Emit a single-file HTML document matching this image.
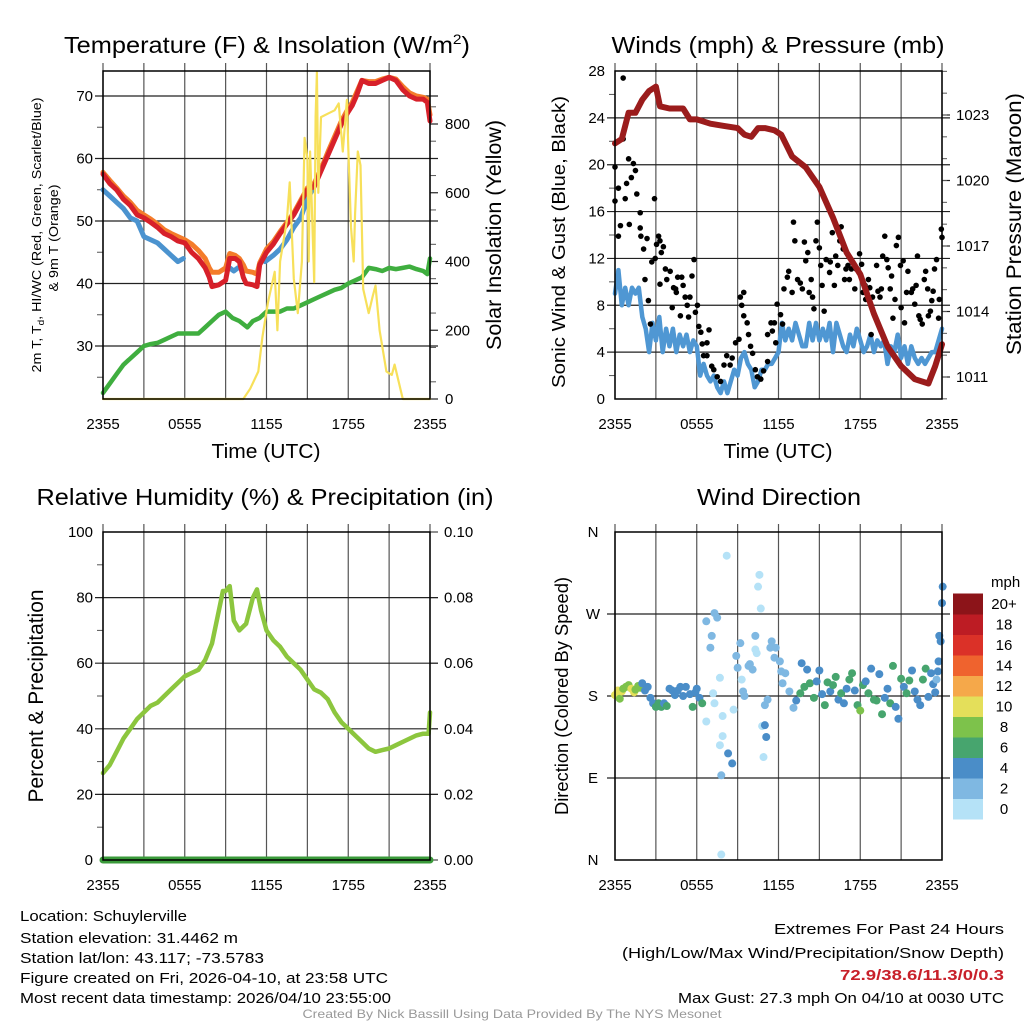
<!DOCTYPE html>
<html><head><meta charset="utf-8"><style>
html,body{margin:0;padding:0;background:#fff}
svg{display:block;font-family:"Liberation Sans",sans-serif}
</style></head><body>
<svg id="svg" width="1024" height="1024" viewBox="0 0 1024 1024" xmlns="http://www.w3.org/2000/svg">
<rect width="1024" height="1024" fill="#fff"/>
<g id="layer"></g>
<text x="267" y="53" font-size="23" text-anchor="middle" textLength="406" lengthAdjust="spacingAndGlyphs">Temperature (F) &amp; Insolation (W/m<tspan font-size="14" dy="-9">2</tspan><tspan dy="9">)</tspan></text>
<text x="778" y="53" font-size="23" text-anchor="middle" textLength="333" lengthAdjust="spacingAndGlyphs">Winds (mph) &amp; Pressure (mb)</text>
<text x="265" y="505" font-size="23" text-anchor="middle" textLength="457" lengthAdjust="spacingAndGlyphs">Relative Humidity (%) &amp; Precipitation (in)</text>
<text x="779" y="505" font-size="23" text-anchor="middle" textLength="164" lengthAdjust="spacingAndGlyphs">Wind Direction</text>
<text x="266" y="458" font-size="20" text-anchor="middle" textLength="109" lengthAdjust="spacingAndGlyphs">Time (UTC)</text>
<text x="778" y="458" font-size="20" text-anchor="middle" textLength="109" lengthAdjust="spacingAndGlyphs">Time (UTC)</text>
<text transform="translate(41,235) rotate(-90)" font-size="13" text-anchor="middle" textLength="275" lengthAdjust="spacingAndGlyphs">2m T, T<tspan font-size="9" dy="3">d</tspan><tspan dy="-3">, HI/WC (Red, Green, Scarlet/Blue)</tspan></text>
<text transform="translate(58,238) rotate(-90)" font-size="13" text-anchor="middle" textLength="107" lengthAdjust="spacingAndGlyphs">&amp; 9m T (Orange)</text>
<text transform="translate(501,235) rotate(-90)" font-size="21" text-anchor="middle" textLength="230" lengthAdjust="spacingAndGlyphs">Solar Insolation (Yellow)</text>
<text transform="translate(565,242) rotate(-90)" font-size="18" text-anchor="middle" textLength="292" lengthAdjust="spacingAndGlyphs">Sonic Wind &amp; Gust (Blue, Black)</text>
<text transform="translate(1021,224) rotate(-90)" font-size="21" text-anchor="middle" textLength="262" lengthAdjust="spacingAndGlyphs">Station Pressure (Maroon)</text>
<text transform="translate(43,696) rotate(-90)" font-size="21" text-anchor="middle" textLength="213" lengthAdjust="spacingAndGlyphs">Percent &amp; Precipitation</text>
<text transform="translate(568,696) rotate(-90)" font-size="18" text-anchor="middle" textLength="238" lengthAdjust="spacingAndGlyphs">Direction (Colored By Speed)</text>
<text x="991" y="587" font-size="15">mph</text>
<g font-size="15">
<text x="20" y="921" textLength="167" lengthAdjust="spacingAndGlyphs">Location: Schuylerville</text>
<text x="20" y="943" textLength="218" lengthAdjust="spacingAndGlyphs">Station elevation: 31.4462 m</text>
<text x="20" y="963" textLength="244" lengthAdjust="spacingAndGlyphs">Station lat/lon: 43.117; -73.5783</text>
<text x="20" y="983" textLength="368" lengthAdjust="spacingAndGlyphs">Figure created on Fri, 2026-04-10, at 23:58 UTC</text>
<text x="20" y="1003" textLength="371" lengthAdjust="spacingAndGlyphs">Most recent data timestamp: 2026/04/10 23:55:00</text>
</g>
<g font-size="15" text-anchor="end">
<text x="1004" y="934" textLength="230" lengthAdjust="spacingAndGlyphs">Extremes For Past 24 Hours</text>
<text x="1004" y="958" textLength="382" lengthAdjust="spacingAndGlyphs">(High/Low/Max Wind/Precipitation/Snow Depth)</text>
<text x="1004" y="980" fill="#c8202a" font-weight="bold" textLength="164" lengthAdjust="spacingAndGlyphs">72.9/38.6/11.3/0/0.3</text>
<text x="1004" y="1003" textLength="326" lengthAdjust="spacingAndGlyphs">Max Gust: 27.3 mph On 04/10 at 0030 UTC</text>
</g>
<text x="512" y="1018" font-size="12" fill="#999" text-anchor="middle" textLength="419" lengthAdjust="spacingAndGlyphs">Created By Nick Bassill Using Data Provided By The NYS Mesonet</text>
</svg>
<script>
const xTickLabels=["2355","0555","1155","1755","2355"];
const tempHours=[0,0.5,1,1.5,2,2.5,3,3.5,4,4.5,5,5.5,6,6.5,7,7.5,7.8,8,8.5,9,9.3,9.7,10,10.3,10.5,11,11.3,11.5,12,12.5,13,13.5,14,14.5,15,15.5,16,16.5,17,17.5,18,18.3,18.6,19,19.5,20,20.5,21,21.5,22,22.5,23,23.5,23.8,24];
const tempRed=[57.5,56,55,53.5,52.5,51,50.5,49.8,49,48,47.5,46.8,46.5,45,44,42.5,41,39.5,39.8,40.5,44,44,43.5,41,40,39.8,39.5,43,45,46.3,48,49.5,51,53,55,55.5,58,60.5,63,65.5,67.5,68.5,70,72.5,72,72,72.5,73,72.5,71,70,69.5,69.5,69,66];
const tempOrange=[57.8,56.5,55.3,54,53,51.7,51,50.3,49.5,48.6,48,47.5,47,46.3,45.3,44,42.5,41.8,41.8,42.5,44.8,44.5,44,43,42,41.8,41.5,43.3,45.5,46.7,48.3,49.8,51.3,53.3,55.3,56,58.3,61,63.5,66,68,69,70.5,72.5,72.3,72.3,72.7,73,72.7,71.5,70.5,70,69.8,69.5,67];
const hiHours=[0,0.5,1,1.5,2,2.5,3,3.5,4,4.5,5,5.5,5.9,null,9.3,9.6,9.9,null,11.9,12.5,13,13.5,14,14.5,15,15.5];
const hiVals=[55,54,53,52,50.5,50,47.5,47,46.5,45.5,44.5,43.5,44,null,42.5,42,42.5,null,43.5,44.5,45.5,47,49,50.5,53.5,55.5];
const dewHours=[0,0.5,1,1.5,2,2.5,3,3.5,4,4.5,5,5.5,6,6.5,7,7.5,8,8.5,9,9.5,10,10.3,10.6,11,11.5,12,12.5,13,13.5,14,14.5,15,15.5,16,16.5,17,17.5,18,18.5,19,19.5,20,20.5,21,21.5,22,22.5,23,23.5,23.8,24];
const dewVals=[22.5,24,25.5,27,28,29,30,30.3,30.5,31,31.5,32,32,32,32,33,34,35,35.5,34.5,34,33.5,33,34,34.5,35.5,35.5,35.5,36,36,36.5,37,37.5,38,38.5,39,39.3,40,40.5,41,42.5,42.3,42,42.5,42.3,42.5,42.7,42.3,42,41.5,44];
const solarHours=[0,10.3,10.8,11.4,11.7,12.1,12.6,12.8,13,13.5,13.7,14,14.3,14.6,14.8,15,15.1,15.2,15.5,15.6,15.7,15.8,16,16.5,17,17.3,17.6,17.9,18,18.2,18.4,18.5,18.7,18.9,19.1,19.5,19.8,20,20.3,20.8,21.2,21.4,21.7,22,24];
const solarVals=[0,0,30,80,180,280,370,200,400,520,630,350,250,400,760,700,400,720,340,820,950,600,820,830,840,860,720,870,730,500,400,540,720,680,320,250,300,330,200,80,70,100,50,0,0];
const windHours=[0,0.25,0.5,0.75,1,1.25,1.5,1.75,2,2.25,2.5,2.75,3,3.25,3.5,3.75,4,4.25,4.5,4.75,5,5.25,5.5,5.75,6,6.25,6.5,6.75,7,7.25,7.5,7.75,8,8.25,8.5,8.75,9,9.25,9.5,9.75,10,10.25,10.5,10.75,11,11.25,11.5,11.75,12,12.25,12.5,12.75,13,13.25,13.5,13.75,14,14.25,14.5,14.75,15,15.25,15.5,15.75,16,16.25,16.5,16.75,17,17.25,17.5,17.75,18,18.25,18.5,18.75,19,19.25,19.5,19.75,20,20.25,20.5,20.75,21,21.25,21.5,21.75,22,22.25,22.5,22.75,23,23.25,23.5,23.75,24];
const windVals=[9,11,8,9.5,8,9.5,9,9.5,7,6,4,6.5,5,7,4,6,4.5,6,4,5.5,4.5,5.5,4,5,4.5,2,3,2,1.5,2,1,0.5,1.5,0.5,1.5,2.5,2,3.5,4,3,2.5,1,1.5,2.5,2.5,3,3,3.5,4,6.5,5,6,5,6.5,5.5,4.5,4.5,6.5,5,6.5,5,6,5,6.5,4,6.5,5.5,4.5,4,5.5,4.5,6,5,4,4.5,5.5,4,5,4.5,5,3,4.5,4,5.5,3.5,4.5,3,4.5,3.5,3,3.5,3,3.5,4,4,5,6];
const gustHours=[0,0,0.25,0.6,0.4,0.25,0.6,0.75,1,1.05,0.85,1.2,1.35,1.5,1.6,1.85,1.85,1.9,2.1,2.35,2.2,2.45,2.6,2.7,2.9,2.95,3.05,3.2,3.3,3.4,3.55,3.7,3.3,3.8,4.05,4.2,4.3,4.45,4.5,4.6,4.8,4.9,5,5.15,5.3,5.4,5.5,5.65,5.8,5.9,6.05,6.15,6.3,6.4,6.5,6.75,6.75,6.9,7.1,7.25,7.5,7.75,8,8.2,8.45,8.6,8.85,9.1,9.2,9.45,9.3,9.45,9.7,9.8,9.95,10.1,10.3,10.45,10.7,10.9,11.2,11.2,11.45,11.55,11.7,11.8,11.9,12.15,12.3,12.4,12.65,12.75,13,13.1,13.2,13.4,13.6,13.75,13.9,14,14.15,14.25,14.4,14.5,14.6,14.75,14.85,15,15.1,15.2,15.35,15.5,15.75,15.8,15.95,16.1,16.2,16.35,16.5,16.6,16.75,16.85,16.95,17.1,17.2,17.35,17.6,17.7,17.95,18.1,18.2,18.35,18.4,18.6,18.7,18.8,18.9,19.2,19.3,19.45,19.55,19.65,19.8,19.95,20.05,20.2,20.3,20.4,20.55,20.65,20.8,20.95,21,21.15,21.25,21.4,21.5,21.75,21.85,22,22.1,22.2,22.3,22.4,22.55,22.7,22.8,22.95,23,23.15,23.25,23.35,23.45,23.6,23.75,23.8,23.95,24,24];
const gustVals=[16.9,19.8,18,27.4,14.8,13.9,22.2,17.1,20.5,14.9,18.4,18.9,20.1,19.5,17.5,15.9,14.6,13.9,12.8,13.7,10.2,8.4,6.4,11.7,17.1,12,13.2,13.9,13.5,12.5,13,11.1,9.8,10.2,10.9,7.8,9.5,9.4,9.1,10.4,7.1,10.4,9.7,8.7,8,7,8.7,10.5,11.9,7.4,8,6.2,5.7,4.7,3.7,3.7,4.8,5.9,2.8,2.5,1.9,1.5,2.9,3.7,2.9,3.5,4.8,5.1,8.7,9.1,8,7.1,6.5,5.5,4.5,3.9,2.5,1.9,1.7,2.4,3.2,5.5,6.5,5.8,6.5,4.8,8.1,7.2,6.4,9.4,10.4,10.9,9.1,15.1,13.5,10.2,9.9,9.4,13.4,11.8,12.5,9.1,10.2,8.7,7.7,13.5,15.1,12.9,11.4,9.7,7.5,11.9,10.8,11.7,14.2,9.7,12.2,11.4,13.5,14.7,12.8,10.2,11.1,11.4,10.2,11.1,9.4,11.1,12.4,11.5,9.1,9.7,8.5,10.2,9.5,5.5,8.7,11.4,9.2,8.7,9.4,12.2,13.9,11.9,11.2,9.4,10.5,6.9,8.5,13.1,13.8,11.4,7.8,11.8,6.5,9.1,10.9,9.1,9.4,8.1,9.7,12.2,7.1,6.8,6.4,10.2,10.9,9.4,7.1,7.5,8.4,9.2,11.1,11.9,6.9,8.5,14.5,13.8];
const presHours=[0,0.5,1,1.5,2,2.5,3,3.3,4,5,5.5,6,7,8,9,9.5,10,10.5,11,11.7,12.2,13,14,15,16,17,18,19,20,21,22,23,23.5,24];
const presVals=[1021.7,1021.9,1023.1,1023.1,1023.7,1024.1,1024.3,1023.4,1023.3,1023.3,1022.8,1022.8,1022.6,1022.5,1022.4,1022.1,1022,1022.4,1022.4,1022.3,1022.1,1021.1,1020.6,1019.7,1018.3,1016.7,1015.7,1013.9,1012.4,1011.5,1010.9,1010.7,1011.5,1012.5];
const rhHours=[0,0.5,1,1.5,2,2.5,3,3.5,4,4.5,5,5.5,6,6.5,7,7.5,8,8.3,8.6,8.8,9,9.3,9.6,10,10.5,11,11.3,11.6,12,12.5,13,13.5,14,14.5,15,15.5,16,16.5,17,17.5,18,18.5,19,19.5,20,20.5,21,21.5,22,22.5,23,23.5,23.9,24];
const rhVals=[26.5,29,33,37,40,43,45,47,48,50,52,54,56,57,58,61,66,72,78,82,82,83.5,73,70,72,80,82.5,76,70,67,65,62,60,58,55,52,51,49,45,42,40,38,36,34,33,33.5,34,35,36,37,38,38.5,38.5,45];
const precipHours=[0,24];
const precipVals=[0,0];
const dirHours=[0,0.1,0.2,0.35,0.5,0.6,0.8,1,1.2,1.4,1.5,1.7,1.85,2,2.2,2.4,2.6,2.8,3,3.2,3.4,3.6,3.8,4,4.2,4.4,4.6,4.8,5,5.2,5.5,5.7,5.9,6,6.2,6.4,6.7,6.7,7.0,7.1,7.2,7.3,7.3,7.5,7.7,7.7,7.8,7.8,7.9,7.9,8.2,8.3,8.6,8.7,8.9,9.0,9.2,9.3,9.4,9.5,9.8,9.9,10.1,10.3,10.3,10.4,10.5,10.6,10.7,10.8,10.9,11.0,11.0,11.1,11.2,11.4,11.5,11.7,11.8,12.1,12.2,12.3,12.5,12.8,13.1,13.3,13.6,13.7,13.9,14.1,14.3,14.6,14.8,15,15.2,15.4,15.6,15.8,16,16.2,16.4,16.6,16.8,17,17.2,17.4,17.6,17.8,18,18.2,18.4,18.6,18.8,19,19.2,19.4,19.6,19.8,20,20.2,20.4,20.6,20.8,21,21.2,21.4,21.6,21.8,22,22.2,22.4,22.6,22.8,23,23.2,23.35,23.5,23.6,23.7,23.75,23.8,23.9,24,24.05];
const dirVals=[181,182,186,177,185,188,190,192,188,184,187,191,189,194,186,190,178,172,168,172,168,172,169,188,186,181,186,190,180,190,182,168,184,188,178,172,262,152,233,246,183,271,172,266,200,126,93,6,158,136,334,117,106,165,224,211,238,198,185,180,213,215,209,246,231,227,300,313,276,147,113,148,170,135,176,233,240,222,233,218,207,194,205,185,167,175,183,216,190,209,194,178,196,208,182,170,195,185,192,201,176,183,172,188,198,205,186,170,164,192,196,183,210,176,175,204,160,178,188,172,213,168,155,199,190,183,197,208,185,176,170,198,210,179,205,193,184,198,207,218,246,240,282,300,321,328];
const dirSpeeds=[10,10,10,9,10,8,8,8,10,10,8,9,8,4,5,4,4,4,6,6,6,4,6,4,4,4,4,4,4,4,4,6,4,4,4,6,2,1,2,2,1,3,1,2,1,1,3,0,1,1,0,4,4,1,2,2,2,1,2,3,3,2,2,3,1,1,0,0,0,1,1,4,2,4,2,3,3,2,3,2,3,2,2,3,3,4,6,4,6,4,6,6,4,4,4,6,6,4,6,7,4,6,4,4,6,6,4,6,8,6,4,6,4,6,6,4,6,4,4,6,6,4,4,6,4,6,6,4,4,4,4,6,6,4,4,4,4,2,4,4,4,4,4,4,4,4,6];
const legendLabels=["0","2","4","6","8","10","12","14","16","18","20+"];
const legendColors=["#b5e2f7","#7fb8e2","#4a8dc8","#47a56e","#7dc24b","#e4df5a","#f5a84a","#ef632e","#db3128","#bd1c24","#8c1419"];

const NS="http://www.w3.org/2000/svg";
const layer=document.getElementById("layer");
function el(tag,attrs,parent){const e=document.createElementNS(NS,tag);for(const k in attrs)e.setAttribute(k,attrs[k]);(parent||layer).appendChild(e);return e;}
function xScale(x0,x1){return h=>x0+h/24*(x1-x0);}
function yScale(v0,v1,y0,y1){return v=>y0+(v-v0)/(v1-v0)*(y1-y0);}
function pathFrom(hs,vs,xs,ys){let d="",pen=false;for(let i=0;i<hs.length;i++){if(hs[i]===null||vs[i]===undefined){pen=false;continue;}d+=(pen?"L":"M")+xs(hs[i]).toFixed(1)+","+ys(vs[i]).toFixed(1);pen=true;}return d;}

function frame(x0,x1,yTop,yBot,name){
  const g=el("g",{});
  
  
  const xs=xScale(x0,x1);
  for(let k=0;k<=8;k++){const x=xs(k*3);const l=el("line",{x1:x,x2:x,y1:yTop-8,y2:yBot,stroke:"#555","stroke-width":1.2},g);}
  for(let k=0;k<5;k++){const t=el("text",{x:xs(k*6),y:yBot+30,"font-size":15,"text-anchor":"middle"},g);t.textContent=xTickLabels[k];}
  return {xs,g};
}
function hline(g,y,x0,x1){const l=el("line",{x1:x0-8,x2:x1+8,y1:y,y2:y,stroke:"#222","stroke-width":1.2},g);}
function label(g,x,y,txt,anchor,name){const t=el("text",{x:x,y:y+5,"font-size":15,"text-anchor":anchor},g);t.textContent=txt;}
function border(x0,x1,y0,y1,name){const r=el("rect",{x:x0,y:y0,width:x1-x0,height:y1-y0,fill:"none",stroke:"#000","stroke-width":1.5});}
function line(d,color,w,name){const p=el("path",{d:d,fill:"none",stroke:color,"stroke-width":w,"stroke-linejoin":"round","stroke-linecap":"round"});return p;}

// Panel 1: temperature
{
  const X0=103,X1=430,YT=71,YB=399;
  const {xs,g}=frame(X0,X1,YT,YB,"temperature");
  const ys=yScale(30,70,346,96);
  const ysR=yScale(0,800,399,124);
  [30,40,50,60,70].forEach(v=>{hline(g,ys(v),X0,X1);label(g,X0-10,ys(v),String(v),"end","temperature-y-tick-label");});
  [25,35,45,55,65].forEach(v=>el("line",{x1:X0-6,x2:X0,y1:ys(v),y2:ys(v),stroke:"#555"},g));
  [0,200,400,600,800].forEach(v=>{el("line",{x1:X1,x2:X1+8,y1:ysR(v),y2:ysR(v),stroke:"#222","stroke-width":1.2},g);label(g,X1+15,ysR(v),String(v),"start","insolation-y-tick-label");});
  for(let v=50;v<950;v+=100)el("line",{x1:X1,x2:X1+6,y1:ysR(v),y2:ysR(v),stroke:"#555"},g);
  line(pathFrom(dewHours,dewVals,xs,ys),"#3fae3f",4.5,"dewpoint-line");
  line(pathFrom(hiHours,hiVals,xs,ys),"#4b93cf",5,"heat-index-wind-chill-line");
  line(pathFrom(tempHours,tempOrange,xs,ys),"#f47c2a",5,"9m-temperature-line");
  line(pathFrom(tempHours,tempRed,xs,ys),"#d7202a",5,"2m-temperature-line");
  line(pathFrom(solarHours,solarVals,xs,ysR),"#f7e05a",2.2,"solar-insolation-line");
  border(X0,X1,YT,YB,"temperature");
}
// Panel 2: winds
{
  const X0=615,X1=942,YT=71,YB=399;
  const {xs,g}=frame(X0,X1,YT,YB,"winds");
  const ys=yScale(0,28,399,71);
  const ysR=yScale(1011,1023,377,115);
  for(let v=0;v<=28;v+=4){if(v>0&&v<28)hline(g,ys(v),X0,X1);label(g,X0-10,ys(v),String(v),"end","wind-y-tick-label");}
  for(let v=2;v<28;v+=4)el("line",{x1:X0-6,x2:X0,y1:ys(v),y2:ys(v),stroke:"#555"},g);
  [1011,1014,1017,1020,1023].forEach(v=>{el("line",{x1:X1,x2:X1+8,y1:ysR(v),y2:ysR(v),stroke:"#222","stroke-width":1.2},g);label(g,X1+14,ysR(v),String(v),"start","pressure-y-tick-label");});
  for(let v=1010;v<=1025;v++)el("line",{x1:X1,x2:X1+5,y1:ysR(v),y2:ysR(v),stroke:"#555"},g);
  line(pathFrom(windHours,windVals,xs,ys),"#4f97d3",4.5,"sustained-wind-line");
  const n=Math.min(gustHours.length,gustVals.length);
  for(let i=0;i<n;i++){
    const c=el("circle",{cx:xs(gustHours[i]),cy:ys(gustVals[i]),r:2.8,fill:"#000"});
    
    
  }
  line(pathFrom(presHours,presVals,xs,ysR),"#9b1c1c",6,"pressure-line");
  border(X0,X1,YT,YB,"winds");
}
// Panel 3: humidity
{
  const X0=103,X1=430,YT=532,YB=860;
  const {xs,g}=frame(X0,X1,YT,YB,"humidity");
  const ys=yScale(0,100,860,532);
  const ysR=yScale(0,0.1,860,532);
  for(let v=0;v<=100;v+=20){if(v>0&&v<100)hline(g,ys(v),X0,X1);label(g,X0-10,ys(v),String(v),"end","humidity-y-tick-label");}
  for(let v=10;v<100;v+=20)el("line",{x1:X0-6,x2:X0,y1:ys(v),y2:ys(v),stroke:"#555"},g);
  for(let v=0;v<=0.1001;v+=0.02){el("line",{x1:X1,x2:X1+8,y1:ysR(v),y2:ysR(v),stroke:"#222"},g);label(g,X1+14,ysR(v),v.toFixed(2),"start","precip-y-tick-label");}
  line(pathFrom(rhHours,rhVals,xs,ys),"#8cc63e",4.5,"relative-humidity-line");
  line(pathFrom(precipHours,precipVals,xs,ysR),"#3a9a3a",7,"precipitation-line");
  border(X0,X1,YT,YB,"humidity");
}
// Panel 4: wind direction
{
  const X0=615,X1=942,YT=532,YB=860;
  const {xs,g}=frame(X0,X1,YT,YB,"direction");
  const ys=yScale(0,360,860,532);
  const dirLabels=["N","E","S","W","N"];
  for(let k=0;k<5;k++){const v=k*90;if(k>0&&k<4)hline(g,ys(v),X0,X1);label(g,X0-22,ys(v),dirLabels[k],"middle","direction-y-tick-label");}
  function colorFor(s){let i=Math.floor(s/2);if(i>10)i=10;if(i<0)i=0;return legendColors[i];}
  const n=Math.min(dirHours.length,dirVals.length,dirSpeeds.length);
  for(let i=0;i<n;i++){
    const c=el("circle",{cx:xs(dirHours[i]),cy:ys(dirVals[i]),r:4,fill:colorFor(dirSpeeds[i])});
    
    
  }
  border(X0,X1,YT,YB,"direction");
  const lg=el("g",{});
  
  
  const bh=20.5,by=819;
  for(let i=0;i<legendColors.length;i++){
    const r=el("rect",{x:953,y:by-(i+1)*bh,width:30,height:bh+0.5,fill:legendColors[i]},lg);
    
    
    const t=el("text",{x:1004,y:by-(i+0.5)*bh+5,"font-size":15,"text-anchor":"middle"},lg);
    t.textContent=legendLabels[i];
    
    
  }
}
</script>
</body></html>
